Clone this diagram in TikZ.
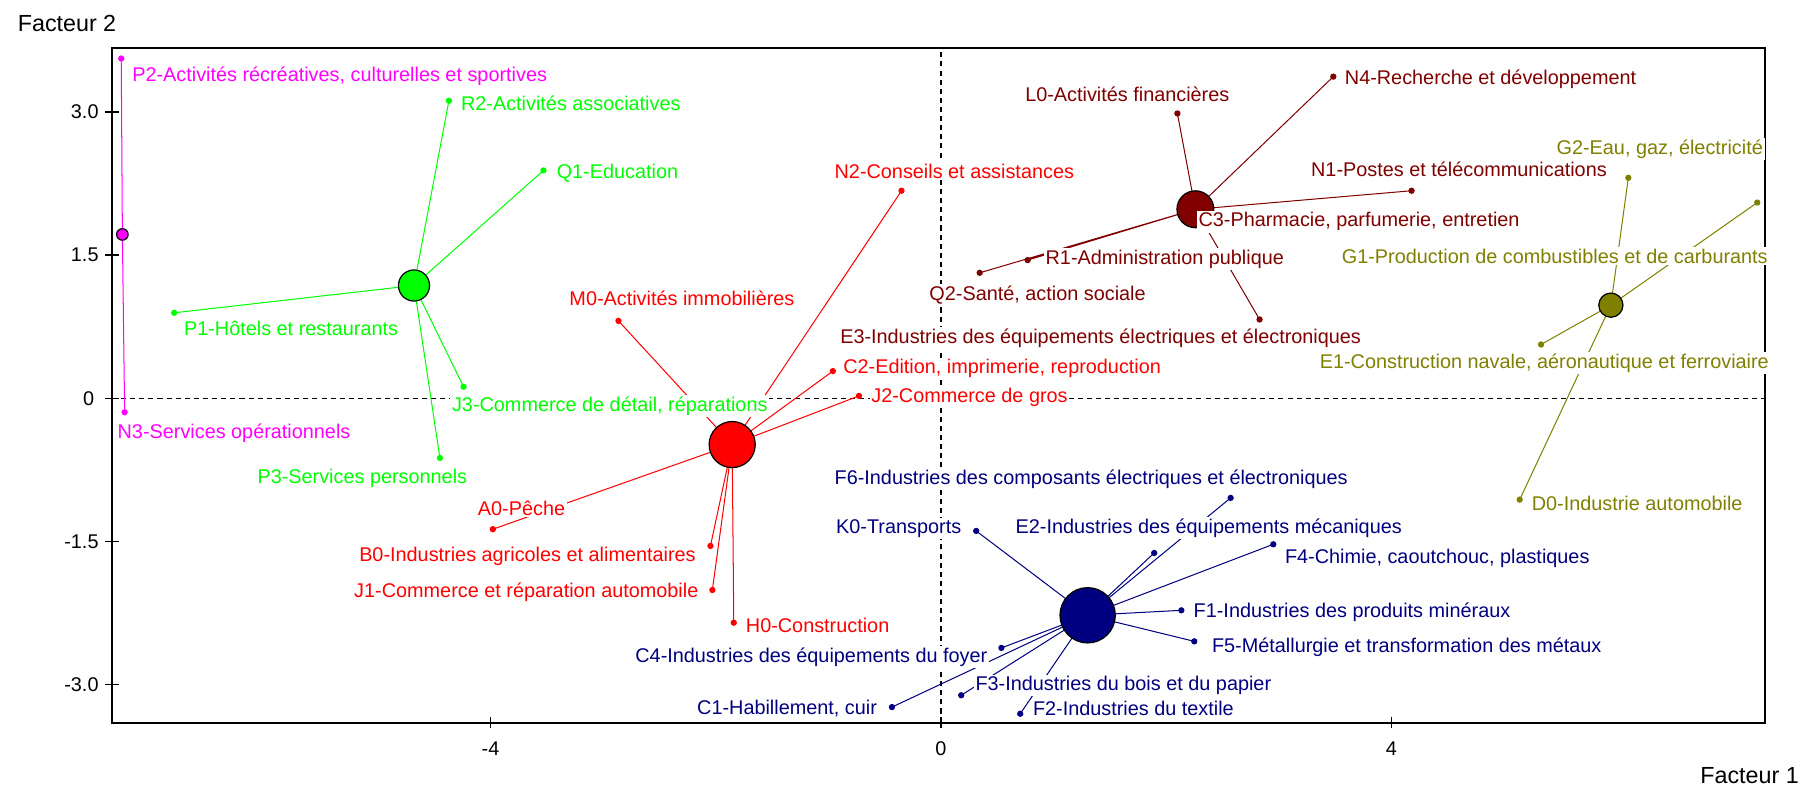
\documentclass[tikz,border=0pt]{standalone}
\usepackage{fontspec}
\setmainfont{Liberation Sans}
\definecolor{mag}{RGB}{255,0,255}
\definecolor{lime}{RGB}{0,255,0}
\definecolor{maroon}{RGB}{128,0,0}
\definecolor{olive}{RGB}{128,128,0}
\definecolor{navy}{RGB}{0,0,128}

\begin{document}
\begin{tikzpicture}[x=1.954cm,y=1.656cm,
  every node/.style={font=\fontsize{9.8}{12}\selectfont},
  lab/.style={fill=white,inner sep=0.8pt,text=#1},
  ticklab/.style={inner sep=1pt},
  hub/.style={circle,draw=black,line width=0.6pt,inner sep=0pt},
  dot/.style={circle,fill,inner sep=0pt,minimum size=1.1mm},
  spoke/.style={line width=0.5pt},
  zeroline/.style={line width=0.6pt,dash pattern=on 2.5pt off 2pt}]
\useasboundingbox (-8.357,-4.064) rectangle (7.692,4.173);
\draw [line width=0.9pt] (-7.363,-3.40) rectangle (7.316,3.666);
\draw [zeroline] (-7.363,0) -- (7.316,0);
\draw [zeroline] (0,-3.40) -- (0,3.666);
\draw [line width=0.6pt] (-7.42,3) -- (-7.30,3) (-7.42,1.5) -- (-7.30,1.5) (-7.42,0) -- (-7.30,0);
\draw [line width=0.6pt] (-7.42,-1.5) -- (-7.30,-1.5) (-7.42,-3) -- (-7.30,-3);
\draw [line width=0.6pt] (-4,-3.46) -- (-4,-3.34) (0,-3.46) -- (0,-3.34) (4,-3.46) -- (4,-3.34);
\node [ticklab,anchor=east] (y30) at (-7.46,3) {3.0};
\node [ticklab,anchor=east] (y15) at (-7.46,1.5) {1.5};
\node [ticklab,anchor=east] (y00) at (-7.50,0) {0};
\node [ticklab,anchor=east] (ym15) at (-7.46,-1.5) {-1.5};
\node [ticklab,anchor=east] (ym30) at (-7.46,-3) {-3.0};
\node [ticklab] (xm4) at (-4,-3.673) {-4};
\node [ticklab] (x0) at (0,-3.673) {0};
\node [ticklab] (x4) at (4,-3.673) {4};
\node [ticklab,anchor=west,font=\fontsize{11.5}{13}\selectfont] (f2) at (-8.22,3.928) {Facteur 2};
\node [ticklab,anchor=east,font=\fontsize{11.5}{13}\selectfont] (f1) at (7.64,-3.95) {Facteur 1};

\coordinate (cMag) at (-7.27,1.716);
\coordinate (P2) at (-7.28,3.56);
\coordinate (N3) at (-7.25,-0.147);
\coordinate (cGrn) at (-4.68,1.181);
\coordinate (R2) at (-4.37,3.117);
\coordinate (Q1) at (-3.53,2.387);
\coordinate (P1) at (-6.81,0.895);
\coordinate (J3) at (-4.24,0.12);
\coordinate (P3) at (-4.45,-0.626);
\coordinate (cRed) at (-1.854,-0.486);
\coordinate (M0) at (-2.864,0.81);
\coordinate (N2) at (-0.35,2.174);
\coordinate (C2) at (-0.96,0.284);
\coordinate (J2) at (-0.728,0.024);
\coordinate (A0) at (-3.98,-1.373);
\coordinate (B0) at (-2.047,-1.548);
\coordinate (J1) at (-2.03,-2.01);
\coordinate (H0) at (-1.84,-2.353);
\coordinate (cMar) at (2.26,1.98);
\coordinate (L0) at (2.10,2.984);
\coordinate (N4) at (3.485,3.37);
\coordinate (N1) at (4.18,2.174);
\coordinate (E3) at (2.83,0.825);
\coordinate (R1) at (0.77,1.447);
\coordinate (Q2) at (0.344,1.314);
\coordinate (cOli) at (5.95,0.975);
\coordinate (G2) at (6.105,2.31);
\coordinate (G1) at (7.25,2.05);
\coordinate (E1) at (5.33,0.563);
\coordinate (D0) at (5.14,-1.063);
\coordinate (cNav) at (1.303,-2.275);
\coordinate (F6) at (2.573,-1.045);
\coordinate (K0) at (0.313,-1.391);
\coordinate (E2) at (1.894,-1.622);
\coordinate (F4) at (2.952,-1.531);
\coordinate (F1) at (2.135,-2.223);
\coordinate (F5) at (2.25,-2.548);
\coordinate (F3) at (0.18,-3.113);
\coordinate (F2) at (0.704,-3.307);
\coordinate (C4) at (0.537,-2.617);
\coordinate (C1) at (-0.435,-3.237);

\draw [mag,spoke] (cMag) -- (P2) (cMag) -- (N3);
\draw [lime,spoke] (cGrn) -- (R2) (cGrn) -- (Q1) (cGrn) -- (P1) (cGrn) -- (J3) (cGrn) -- (P3);
\draw [red,spoke] (cRed) -- (M0) (cRed) -- (N2) (cRed) -- (C2) (cRed) -- (J2);
\draw [red,spoke] (cRed) -- (A0) (cRed) -- (B0) (cRed) -- (J1) (cRed) -- (H0);
\draw [maroon,spoke] (cMar) -- (L0) (cMar) -- (N4) (cMar) -- (N1) (cMar) -- (E3) (cMar) -- (R1) (cMar) -- (Q2);
\draw [olive,spoke] (cOli) -- (G2) (cOli) -- (G1) (cOli) -- (E1) (cOli) -- (D0);
\draw [navy,spoke] (cNav) -- (F6) (cNav) -- (K0) (cNav) -- (E2) (cNav) -- (F4) (cNav) -- (F1) (cNav) -- (F5);
\draw [navy,spoke] (cNav) -- (F3) (cNav) -- (F2) (cNav) -- (C4) (cNav) -- (C1);

\node [hub,fill=mag,minimum size=2mm] (hMag) at (cMag) {};
\node [hub,fill=lime,minimum size=5.4mm] (hGrn) at (cGrn) {};
\node [hub,fill=red,minimum size=8mm] (hRed) at (cRed) {};
\node [hub,fill=maroon,minimum size=6.4mm] (hMar) at (cMar) {};
\node [hub,fill=olive,minimum size=4.2mm] (hOli) at (cOli) {};
\node [hub,fill=navy,minimum size=9.6mm] (hNav) at (cNav) {};

\node [dot,mag] (dP2) at (P2) {};
\node [dot,mag] (dN3) at (N3) {};
\node [dot,lime] (dR2) at (R2) {};
\node [dot,lime] (dQ1) at (Q1) {};
\node [dot,lime] (dP1) at (P1) {};
\node [dot,lime] (dJ3) at (J3) {};
\node [dot,lime] (dP3) at (P3) {};
\node [dot,red] (dM0) at (M0) {};
\node [dot,red] (dN2) at (N2) {};
\node [dot,red] (dC2) at (C2) {};
\node [dot,red] (dJ2) at (J2) {};
\node [dot,red] (dA0) at (A0) {};
\node [dot,red] (dB0) at (B0) {};
\node [dot,red] (dJ1) at (J1) {};
\node [dot,red] (dH0) at (H0) {};
\node [dot,maroon] (dL0) at (L0) {};
\node [dot,maroon] (dN4) at (N4) {};
\node [dot,maroon] (dN1) at (N1) {};
\node [dot,maroon] (dE3) at (E3) {};
\node [dot,maroon] (dR1) at (R1) {};
\node [dot,maroon] (dQ2) at (Q2) {};
\node [dot,olive] (dG2) at (G2) {};
\node [dot,olive] (dG1) at (G1) {};
\node [dot,olive] (dE1) at (E1) {};
\node [dot,olive] (dD0) at (D0) {};
\node [dot,navy] (dF6) at (F6) {};
\node [dot,navy] (dK0) at (K0) {};
\node [dot,navy] (dE2) at (E2) {};
\node [dot,navy] (dF4) at (F4) {};
\node [dot,navy] (dF1) at (F1) {};
\node [dot,navy] (dF5) at (F5) {};
\node [dot,navy] (dF3) at (F3) {};
\node [dot,navy] (dF2) at (F2) {};
\node [dot,navy] (dC4) at (C4) {};
\node [dot,navy] (dC1) at (C1) {};

\node [lab=mag,anchor=west] (lP2) at (-7.20,3.375) {P2-Activités récréatives, culturelles et sportives};
\node [lab=mag,anchor=west] (lN3) at (-7.33,-0.364) {N3-Services opérationnels};
\node [lab=lime,anchor=west] (lR2) at (-4.28,3.09) {R2-Activités associatives};
\node [lab=lime,anchor=west] (lQ1) at (-3.43,2.355) {Q1-Education};
\node [lab=lime,anchor=west] (lP1) at (-6.74,0.73) {P1-Hôtels et restaurants};
\node [lab=lime,anchor=west] (lJ3) at (-4.36,-0.085) {J3-Commerce de détail, réparations};
\node [lab=lime,anchor=east] (lP3) at (-4.19,-0.845) {P3-Services personnels};
\node [lab=red,anchor=east] (lM0) at (-1.283,1.045) {M0-Activités immobilières};
\node [lab=red,anchor=west] (lN2) at (-0.962,2.38) {N2-Conseils et assistances};
\node [lab=red,anchor=west] (lC2) at (-0.885,0.31) {C2-Edition, imprimerie, reproduction};
\node [lab=red,anchor=west] (lJ2) at (-0.636,0.007) {J2-Commerce de gros};
\node [lab=red,anchor=west] (lA0) at (-4.13,-1.15) {A0-Pêche};
\node [lab=red,anchor=east] (lB0) at (-2.16,-1.657) {B0-Industries agricoles et alimentaires};
\node [lab=red,anchor=east] (lJ1) at (-2.136,-2.037) {J1-Commerce et réparation automobile};
\node [lab=red,anchor=west] (lH0) at (-1.75,-2.38) {H0-Construction};
\node [lab=olive,anchor=west] (lG2) at (5.45,2.61) {G2-Eau, gaz, électricité};
\node [lab=olive,anchor=west] (lG1) at (3.543,1.489) {G1-Production de combustibles et de carburants};
\node [lab=olive,anchor=west] (lE1) at (3.347,0.364) {E1-Construction navale, aéronautique et ferroviaire};
\node [lab=olive,anchor=west] (lD0) at (5.23,-1.098) {D0-Industrie automobile};
\node [lab=maroon,anchor=west] (lL0) at (0.731,3.18) {L0-Activités financières};
\node [lab=maroon,anchor=west] (lN4) at (3.57,3.34) {N4-Recherche et développement};
\node [lab=maroon,anchor=west] (lN1) at (3.27,2.397) {N1-Postes et télécommunications};
\node [lab=maroon,anchor=west] (lC3) at (2.27,1.85) {C3-Pharmacie, parfumerie, entretien};
\node [lab=maroon,anchor=west] (lE3) at (-0.912,0.633) {E3-Industries des équipements électriques et électroniques};
\node [lab=maroon,anchor=west] (lR1) at (0.912,1.458) {R1-Administration publique};
\node [lab=maroon,anchor=west] (lQ2) at (-0.12,1.08) {Q2-Santé, action sociale};
\node [lab=navy,anchor=west] (lF6) at (-0.962,-0.849) {F6-Industries des composants électriques et électroniques};
\node [lab=navy,anchor=east] (lK0) at (0.198,-1.367) {K0-Transports};
\node [lab=navy,anchor=west] (lE2) at (0.646,-1.363) {E2-Industries des équipements mécaniques};
\node [lab=navy,anchor=west] (lF4) at (3.038,-1.674) {F4-Chimie, caoutchouc, plastiques};
\node [lab=navy,anchor=west] (lF1) at (2.227,-2.24) {F1-Industries des produits minéraux};
\node [lab=navy,anchor=west] (lF5) at (2.39,-2.607) {F5-Métallurgie et transformation des métaux};
\node [lab=navy,anchor=west] (lF3) at (0.289,-3.01) {F3-Industries du bois et du papier};
\node [lab=navy,anchor=west] (lF2) at (0.80,-3.254) {F2-Industries du textile};
\node [lab=navy,anchor=east] (lC4) at (0.43,-2.711) {C4-Industries des équipements du foyer};
\node [lab=navy,anchor=east] (lC1) at (-0.55,-3.254) {C1-Habillement, cuir};
\end{tikzpicture}
\end{document}
